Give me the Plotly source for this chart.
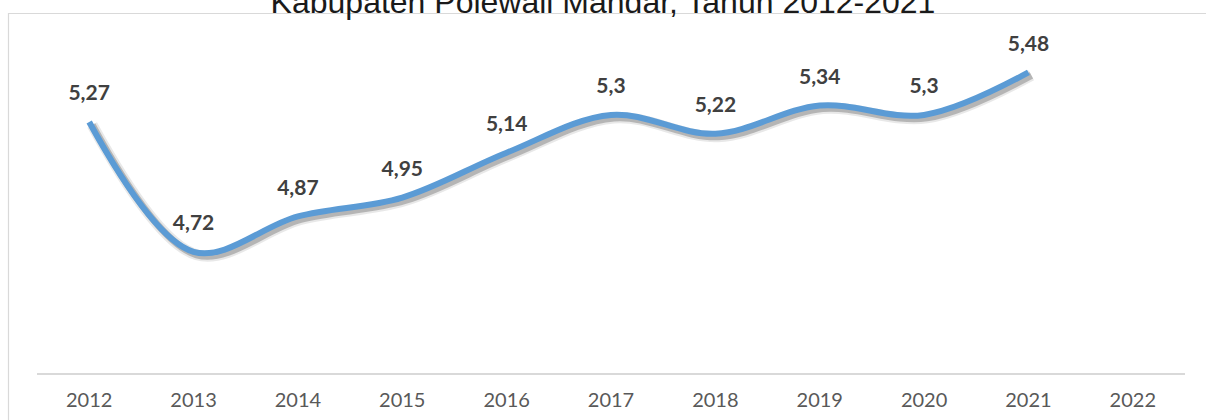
import plotly.graph_objects as go

years = ["2012", "2013", "2014", "2015", "2016", "2017", "2018", "2019", "2020", "2021", "2022"]
values = [5.27, 4.72, 4.87, 4.95, 5.14, 5.30, 5.22, 5.34, 5.30, 5.48, None]
labels = ["5,27", "4,72", "4,87", "4,95", "5,14", "5,3", "5,22", "5,34", "5,3", "5,48", ""]
title_text = "Kabupaten Polewali Mandar, Tahun 2012-2021"

W, H = 1206, 420
ML, MR, MT, MB = 37, 21, 40, 47
plot_w = W - ML - MR
plot_h = H - MT - MB
n = len(years)
px_per_cat = plot_w / n
y_min = 4.2064
px_per_unit = 236.0
y_max = y_min + plot_h / px_per_unit

# shadow offset (pixels) expressed as axis-range shift
sx, sy = 3, 3
dx = sx / px_per_cat
dy = sy / px_per_unit

line_style = dict(shape="spline", smoothing=1.0)

fig = go.Figure()

# shadow traces (same data on the primary axes, whose ranges are shifted a few px)
fig.add_trace(go.Scatter(x=years, y=values, mode="lines",
                         line=dict(color="rgba(0,0,0,0.09)", width=11, **line_style),
                         hoverinfo="skip", showlegend=False))
fig.add_trace(go.Scatter(x=years, y=values, mode="lines",
                         line=dict(color="rgba(0,0,0,0.22)", width=7, **line_style),
                         hoverinfo="skip", showlegend=False))

# main line + data labels on the overlay (visible) axes
fig.add_trace(go.Scatter(x=years, y=values, mode="lines+markers+text",
                         line=dict(color="#5B9BD5", width=6, **line_style),
                         marker=dict(size=25, color="rgba(0,0,0,0)"),
                         text=["<b>" + t + "</b>" for t in labels],
                         textposition="top center",
                         textfont=dict(family="Lato, Open Sans, sans-serif", size=21, color="#404040"),
                         xaxis="x2", yaxis="y2", cliponaxis=False, showlegend=False))

# outer chart border (partially outside the page)
fig.add_shape(type="rect", xref="paper", yref="paper",
              x0=(8.5 - ML) / plot_w, x1=(W + 20 - ML) / plot_w,
              y0=-(H + 20 - (MT + plot_h)) / plot_h, y1=((MT + plot_h) - 13.5) / plot_h,
              line=dict(color="#D9D9D9", width=1.2), fillcolor="rgba(0,0,0,0)", layer="below")

fig.update_layout(
    width=W, height=H,
    margin=dict(l=ML, r=MR, t=MT, b=MB, autoexpand=False),
    paper_bgcolor="white", plot_bgcolor="white",
    title=dict(text=title_text, x=0.5, xanchor="center", xref="container",
               y=1 - 13 / H, yanchor="bottom", yref="container", automargin=False,
               font=dict(family="Liberation Sans, Arial, sans-serif", size=32, color="#1a1a1a")),
    xaxis=dict(type="category", categoryorder="array", categoryarray=years,
               range=[-0.5 - dx, n - 0.5 - dx], visible=False, automargin=False),
    yaxis=dict(range=[y_min + dy, y_max + dy], visible=False, automargin=False),
    xaxis2=dict(type="category", categoryorder="array", categoryarray=years,
                range=[-0.5, n - 0.5], overlaying="x", side="bottom",
                showgrid=False, zeroline=False, automargin=False,
                showline=True, linecolor="#D9D9D9", linewidth=2,
                ticks="", ticklabelstandoff=8,
                tickfont=dict(family="Lato, Open Sans, sans-serif", size=20, color="#595959")),
    yaxis2=dict(range=[y_min, y_max], overlaying="y", visible=False, automargin=False),
)

fig.write_html("out.html", config={"displayModeBar": False},
               post_script="document.body.style.margin='0px';")
